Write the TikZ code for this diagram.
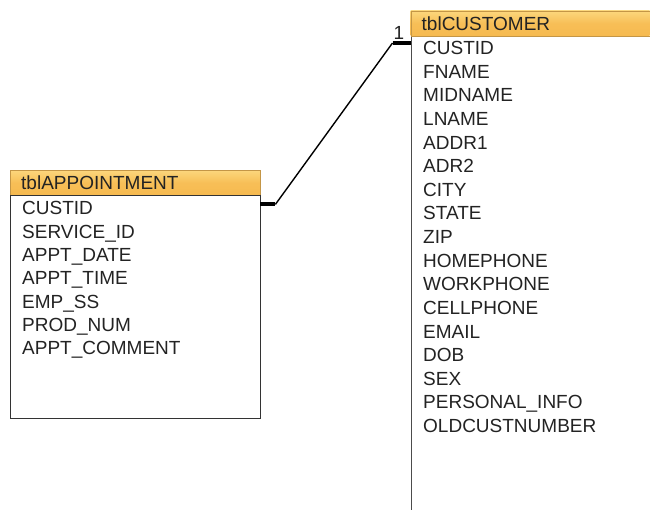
\documentclass[tikz,border=0pt]{standalone}
\usepackage{fontspec}
\setmainfont{Liberation Sans}
\usetikzlibrary{positioning}
\definecolor{headtop}{RGB}{252,215,125}
\definecolor{headbot}{RGB}{246,186,80}
\definecolor{headline}{RGB}{196,150,70}
\definecolor{fieldtext}{RGB}{35,35,35}
\tikzset{
  tblhead/.style={draw=headline, top color=headtop, bottom color=headbot,
    middle color=headbot!85!headtop,
    anchor=north west, align=left, inner xsep=11pt, inner ysep=0pt,
    minimum height=25pt, text=fieldtext, font=\fontsize{19}{22}\selectfont},
  tblbody/.style={draw=black!80, fill=white, inner sep=0pt},
  field/.style={anchor=base west, inner sep=0pt, text=fieldtext,
    font=\fontsize{19}{22}\selectfont},
  stub/.style={line width=3.8pt},
  link/.style={line width=1.4pt}
}
\begin{document}
\begin{tikzpicture}[x=1pt,y=-1pt]
\useasboundingbox (0,0) rectangle (650,510);
% appointment table
\node[tblhead, text width=228pt] (apptHead) at (10,170) {tblAPPOINTMENT};
\node[tblbody, below=0pt of apptHead, minimum width=250pt, minimum height=223pt] (apptBody) {};
\foreach \f [count=\i] in {CUSTID,SERVICE\_ID,APPT\_DATE,APPT\_TIME,EMP\_SS,PROD\_NUM,APPT\_COMMENT}
  \node[field] (a\i) at (22,{214.8+23.35*(\i-1)}) {\f};
% customer table
\node[tblbody, draw=black!70, anchor=north west, minimum width=239pt, minimum height=490pt] (custBody) at (410.5,36) {};
\node[tblhead, text width=217pt, anchor=south west] (custHead) at (custBody.north west) {tblCUSTOMER};
\foreach \f [count=\i] in {CUSTID,FNAME,MIDNAME,LNAME,ADDR1,ADR2,CITY,STATE,ZIP,HOMEPHONE,WORKPHONE,CELLPHONE,EMAIL,DOB,SEX,PERSONAL\_INFO,OLDCUSTNUMBER}
  \node[field] (c\i) at (423,{54.8+23.6*(\i-1)}) {\f};
% relationship
\coordinate (p0) at ([yshift=-9pt]apptBody.north east);
\coordinate (p1) at ([xshift=15pt]p0);
\coordinate (q0) at ([yshift=-7pt]custBody.north west);
\coordinate (q1) at ([xshift=-18pt]q0);
\draw[stub] (p0) -- (p1);
\draw[link] (p1) -- (q1);
\draw[stub] (q1) -- (q0);
\node[field, anchor=south west] (one) at ([xshift=1pt,yshift=3pt]q1) {1};
\end{tikzpicture}
\end{document}
